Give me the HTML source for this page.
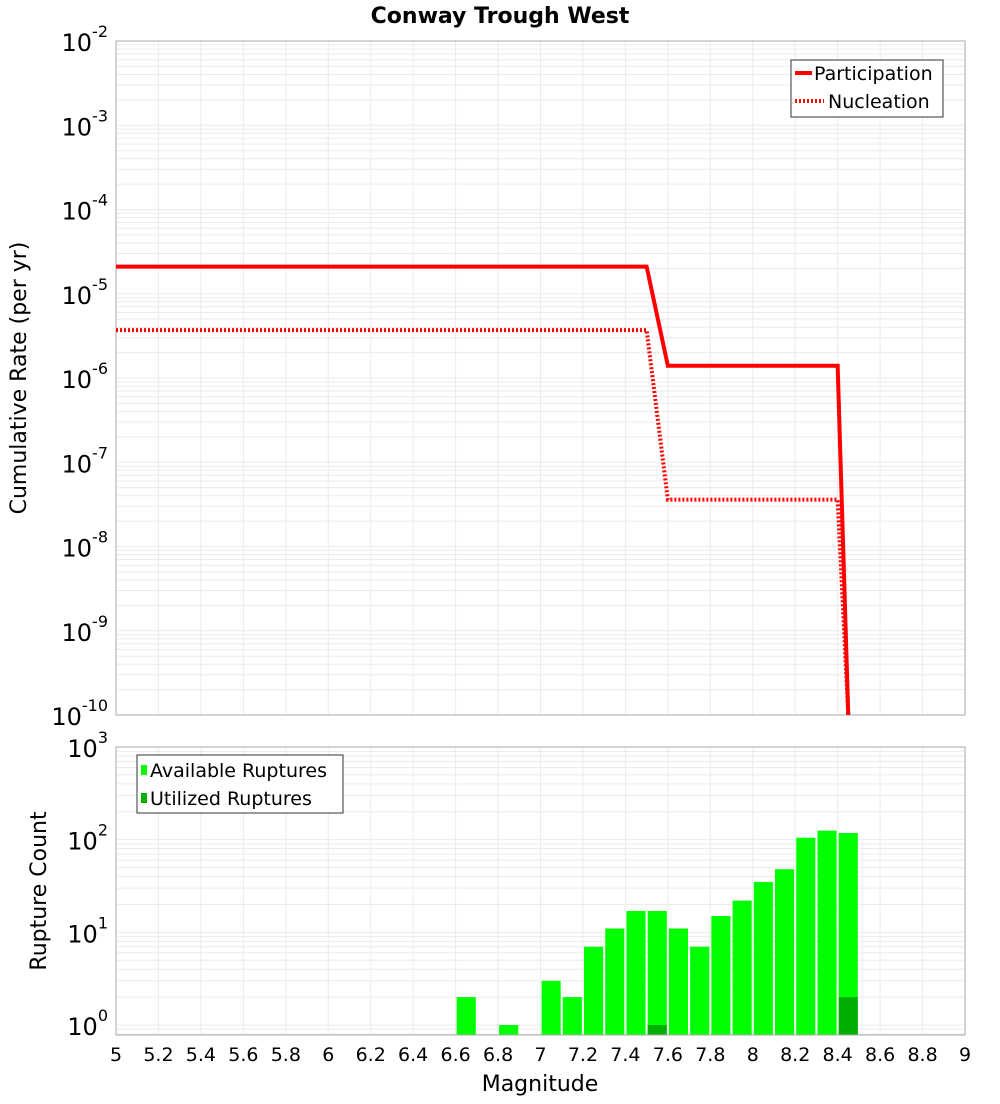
<!DOCTYPE html>
<html><head><meta charset="utf-8"><style>
body{margin:0;background:#fff;font-family:"DejaVu Sans","Liberation Sans",sans-serif;}
</style></head><body>
<svg id="c" width="1000" height="1100" xmlns="http://www.w3.org/2000/svg" font-family="DejaVu Sans, Liberation Sans, sans-serif">
<text x="500" y="23" text-anchor="middle" font-size="22" font-weight="bold">Conway Trough West</text>
<g id="topg"></g><g id="botg"></g>
<text transform="translate(26,378) rotate(-90)" text-anchor="middle" font-size="22">Cumulative Rate (per yr)</text>
<text transform="translate(46,891) rotate(-90)" text-anchor="middle" font-size="22">Rupture Count</text>
<text x="540" y="1091" text-anchor="middle" font-size="22">Magnitude</text>
</svg>
<script>
const xTicks=[5,5.2,5.4,5.6,5.8,6,6.2,6.4,6.6,6.8,7,7.2,7.4,7.6,7.8,8,8.2,8.4,8.6,8.8,9];
const xTickLabels=["5","5.2","5.4","5.6","5.8","6","6.2","6.4","6.6","6.8","7","7.2","7.4","7.6","7.8","8","8.2","8.4","8.6","8.8","9"];
const partMag=[5,7.5,7.6,8.4,8.45];
const partRate=[2.1e-5,2.1e-5,1.4e-6,1.4e-6,1e-10];
const nuclMag=[5,7.5,7.6,8.4,8.45];
const nuclRate=[3.7e-6,3.7e-6,3.6e-8,3.6e-8,1e-10];
const barMag=[6.65,6.85,7.05,7.15,7.25,7.35,7.45,7.55,7.65,7.75,7.85,7.95,8.05,8.15,8.25,8.35,8.45];
const availCount=[2,1,3,2,7,11,17,17,11,7,15,22,35,48,105,125,118];
const utilCount=[0,0,0,0,0,0,0,1,0,0,0,0,0,0,0,0,2];
const topExp=[-2,-3,-4,-5,-6,-7,-8,-9,-10];
const botExp=[3,2,1,0];

const NS="http://www.w3.org/2000/svg";
const L=116,R=965;
const X=m=>L+(m-5)/4*(R-L);
const T0=41,T1=715;
const YT=v=>T0+(-2-Math.log10(v))*(T1-T0)/8;
const B0=747,B1=1035,DEC=92.67;
const YB=v=>Math.min(B1,B0+(3-Math.log10(v))*DEC);
function el(p,t,a,txt){const e=document.createElementNS(NS,t);for(const k in a)e.setAttribute(k,a[k]);if(txt!==undefined)e.textContent=txt;p.appendChild(e);return e;}
const topG=document.getElementById('topg'),botG=document.getElementById('botg');

for(let d=-10;d<-2;d++)for(let k=1;k<10;k++){const y=YT(k*Math.pow(10,d));const g=el(topG,'line',{x1:L,x2:R,y1:y,y2:y,stroke:'#ebebeb','stroke-width':1});}
xTicks.forEach(t=>{const g=el(topG,'line',{x1:X(t),x2:X(t),y1:T0,y2:T1,stroke:'#ebebeb'});});
let f=el(topG,'rect',{x:L,y:T0,width:R-L,height:T1-T0,fill:'none',stroke:'#aaa'});
topExp.forEach(e=>{const y=YT(Math.pow(10,e));const t=el(topG,'text',{x:108,y:y+10,'text-anchor':'end','font-size':24});
 t.innerHTML='10<tspan dy="-14" font-size="16">'+e+'</tspan>';});
const defs=el(document.getElementById('c'),'defs',{});const cp=el(defs,'clipPath',{id:'tc'});el(cp,'rect',{x:L,y:T0,width:R-L,height:T1-T0});
function line(p,ms,vs,dash,name){const pts=ms.map((m,i)=>X(m)+','+YT(vs[i])).join(' ');const l=el(p,'polyline',{points:pts,fill:'none',stroke:'#f00','stroke-width':4,'stroke-dasharray':dash,'clip-path':'url(#tc)'});}
line(topG,nuclMag,nuclRate,'2,2','nucleation-line');
line(topG,partMag,partRate,'none','participation-line');
const lg=el(topG,'g',{});
el(lg,'rect',{x:791,y:60,width:152,height:57,fill:'#fff',stroke:'#333'});
el(lg,'line',{x1:795,x2:812,y1:73,y2:73,stroke:'#f00','stroke-width':4});
el(lg,'text',{x:814,y:80,'font-size':19},'Participation');
el(lg,'line',{x1:795,x2:824,y1:101,y2:101,stroke:'#f00','stroke-width':4,'stroke-dasharray':'2,2'});
el(lg,'text',{x:828,y:108,'font-size':19},'Nucleation');

for(let d=-1;d<3;d++)for(let k=1;k<10;k++){const v=k*Math.pow(10,d);const y=B0+(3-Math.log10(v))*DEC;if(y>B1||y<B0)continue;const g=el(botG,'line',{x1:L,x2:R,y1:y,y2:y,stroke:'#ebebeb'});}
xTicks.forEach((t,i)=>{const g=el(botG,'line',{x1:X(t),x2:X(t),y1:B0,y2:B1,stroke:'#ebebeb'});
 const tx=el(botG,'text',{x:X(t),y:1061,'text-anchor':'middle','font-size':19},xTickLabels[i]);});
botExp.forEach(e=>{const y=B0+(3-e)*DEC;const t=el(botG,'text',{x:108,y:y+10,'text-anchor':'end','font-size':24});
 t.innerHTML='10<tspan dy="-14" font-size="16">'+e+'</tspan>';});
const bw=(X(5.1)-X(5))*0.9;
barMag.forEach((m,i)=>{const y=YB(availCount[i]);const b=el(botG,'rect',{x:X(m)-bw/2,y:y,width:bw,height:B1-y,fill:'#00ff00'});
 if(utilCount[i]>0){const yu=YB(utilCount[i]);const u=el(botG,'rect',{x:X(m)-bw/2,y:yu,width:bw,height:B1-yu,fill:'#00b000'});}});
f=el(botG,'rect',{x:L,y:B0,width:R-L,height:B1-B0,fill:'none',stroke:'#aaa'});
const lg2=el(botG,'g',{});
el(lg2,'rect',{x:137,y:755,width:206,height:58,fill:'#fff',stroke:'#333'});
el(lg2,'rect',{x:141,y:765,width:6,height:10,fill:'#00ff00'});
el(lg2,'text',{x:150,y:777,'font-size':19},'Available Ruptures');
el(lg2,'rect',{x:141,y:793,width:6,height:10,fill:'#00b000'});
el(lg2,'text',{x:150,y:805,'font-size':19},'Utilized Ruptures');
</script>
</body></html>
